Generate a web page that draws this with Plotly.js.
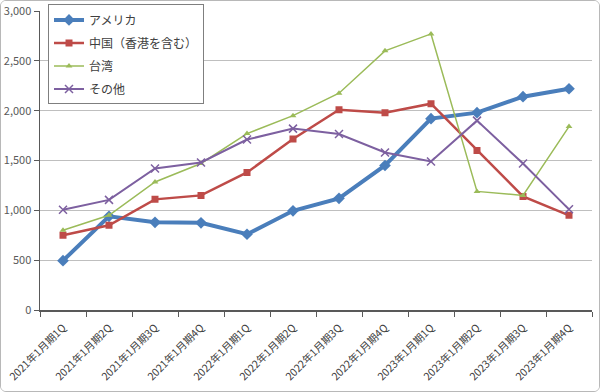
<!DOCTYPE html>
<html><head><meta charset="utf-8">
<script src="https://cdn.plot.ly/plotly-3.0.1.min.js"></script>
<style>
html,body{margin:0;padding:0;background:#fff;}
#wrap{width:600px;height:392px;box-sizing:border-box;border:1px solid #b8b8b8;border-radius:6px;overflow:hidden;}
#chart{width:598px;height:390px;}
</style></head><body>
<div id="wrap"><div id="chart"></div></div>
<script>
const categories = ["2021年1月期1Q","2021年1月期2Q","2021年1月期3Q","2021年1月期4Q","2022年1月期1Q","2022年1月期2Q","2022年1月期3Q","2022年1月期4Q","2023年1月期1Q","2023年1月期2Q","2023年1月期3Q","2023年1月期4Q"];
const america = [495, 940, 880, 875, 760, 995, 1120, 1450, 1920, 1980, 2140, 2220];
const china = [750, 850, 1110, 1150, 1380, 1715, 2010, 1980, 2070, 1600, 1140, 950];
const taiwan = [800, 950, 1285, 1470, 1770, 1950, 2175, 2600, 2770, 1190, 1150, 1840];
const other = [1005, 1105, 1420, 1480, 1710, 1820, 1765, 1580, 1490, 1900, 1470, 1010];
const names = ["アメリカ","中国（香港を含む）","台湾","その他"];
const yTicks = [0,500,1000,1500,2000,2500,3000];

const traces = [
  {x: categories, y: america, name: names[0], type: "scatter", mode: "lines+markers",
   line: {color: "#4A7EBB", width: 4}, marker: {symbol: "diamond", size: 9, color: "#4A7EBB"}, legendgroup: "a"},
  {x: categories, y: china, name: names[1], type: "scatter", mode: "lines+markers",
   line: {color: "#BE4B48", width: 2.5}, marker: {symbol: "square", size: 7, color: "#BE4B48"}, legendgroup: "b"},
  {x: categories, y: taiwan, name: names[2], type: "scatter", mode: "lines+markers",
   line: {color: "#9BBB59", width: 1.5}, marker: {symbol: "triangle-up", size: 6, color: "#9BBB59"}, legendgroup: "c"},
  {x: categories, y: other, name: names[3], type: "scatter", mode: "lines+markers",
   line: {color: "#7D60A0", width: 2}, marker: {symbol: "x-thin-open", size: 8, color: "#7D60A0", line: {color: "#7D60A0", width: 1.5}}, legendgroup: "d"}
];

const layout = {
  width: 598, height: 390,
  margin: {l: 39, r: 7, t: 10, b: 81, autoexpand: false},
  paper_bgcolor: "#fff", plot_bgcolor: "#fff",
  font: {family: "'Noto Sans CJK JP', 'Noto Sans', sans-serif", color: "#595959", size: 11},
  showlegend: true,
  legend: {x: 0.0145, y: 1.022, xanchor: "left", yanchor: "top", bgcolor: "#fff",
    bordercolor: "#7f7f7f", borderwidth: 1, font: {size: 12, color: "#404040"},
    itemwidth: 30, tracegroupgap: 4, traceorder: "grouped"},
  xaxis: {type: "category", tickangle: -45, showgrid: false, showline: true, linecolor: "#595959", linewidth: 1.5,
    ticks: "outside", ticklen: 5, tickcolor: "#595959", tickson: "boundaries", ticklabelstandoff: 6,
    tickfont: {size: 10.5, color: "#404040"}, range: [-0.5, 11.5], automargin: false},
  yaxis: {range: [0, 3000], tickvals: yTicks, tickformat: ",d", showgrid: true, gridcolor: "#BFBFBF",
    showline: true, linecolor: "#595959", linewidth: 1.5, ticks: "outside", ticklen: 5, tickcolor: "#595959",
    zeroline: false, tickfont: {size: 11, color: "#595959"}, automargin: false}
};
Plotly.newPlot("chart", traces, layout, {displayModeBar: false, staticPlot: true});
</script>
</body></html>
